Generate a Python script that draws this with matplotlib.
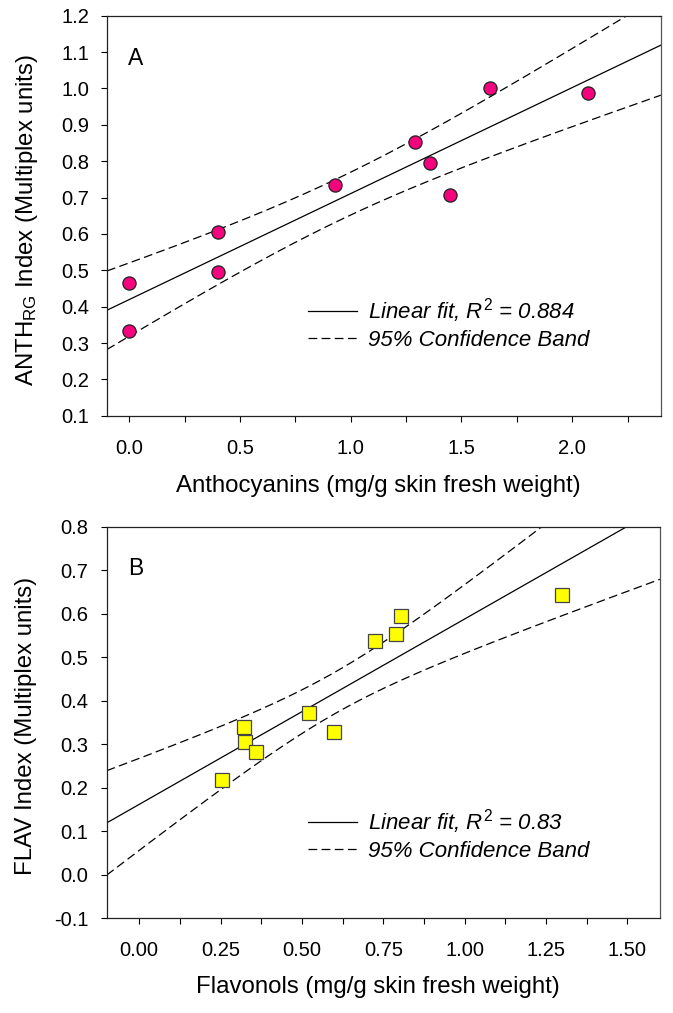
import numpy as np
import matplotlib
matplotlib.use('Agg')
import matplotlib.pyplot as plt
from matplotlib.ticker import MultipleLocator, FormatStrFormatter

# panel A: anthocyanins vs ANTH_RG
anth_x = [0.0, 0.0, 0.40, 0.40, 0.93, 1.29, 1.36, 1.45, 1.63, 2.07]
anth_y = [0.464, 0.333, 0.604, 0.494, 0.734, 0.853, 0.795, 0.708, 1.000, 0.987]
anth_r2 = '0.884'

# panel B: flavonols vs FLAV
flav_x = [0.255, 0.322, 0.324, 0.358, 0.523, 0.600, 0.724, 0.790, 0.804, 1.299]
flav_y = [0.218, 0.339, 0.305, 0.283, 0.372, 0.329, 0.537, 0.553, 0.594, 0.642]
flav_r2 = '0.83'

T95 = 2.306  # t(0.975, df=8)

plt.rcParams['font.family'] = ['Liberation Sans', 'DejaVu Sans']
plt.rcParams['mathtext.fontset'] = 'custom'
plt.rcParams['mathtext.rm'] = 'Liberation Sans'
plt.rcParams['mathtext.it'] = 'Liberation Sans:italic'
plt.rcParams['axes.linewidth'] = 0.9


def fit_band(x, y, xs):
    x = np.asarray(x); y = np.asarray(y)
    n = len(x)
    b, a = np.polyfit(x, y, 1)
    resid = y - (a + b * x)
    s = np.sqrt(np.sum(resid ** 2) / (n - 2))
    sxx = np.sum((x - x.mean()) ** 2)
    yhat = a + b * xs
    half = T95 * s * np.sqrt(1.0 / n + (xs - x.mean()) ** 2 / sxx)
    return yhat, yhat - half, yhat + half


def draw_panel(ax, x, y, r2, xlim, ylim, xmaj, xfmt, marker, face, edge, letter, xlabel, ylabel):
    xs = np.linspace(xlim[0], xlim[1], 200)
    yhat, lo, hi = fit_band(x, y, xs)
    ax.plot(xs, yhat, color='black', lw=0.9, label=r'Linear fit, $\mathit{R}^{2}$ = ' + r2)
    ax.plot(xs, hi, color='black', lw=0.9, ls=(0, (7, 3.5)), label='95% Confidence Band')
    ax.plot(xs, lo, color='black', lw=0.9, ls=(0, (7, 3.5)))
    ax.plot(x, y, ls='none', marker=marker, ms=9.5, mfc=face, mec=edge, mew=0.9, zorder=5)

    ax.set_xlim(xlim)
    ax.set_ylim(ylim)
    ax.xaxis.set_major_locator(MultipleLocator(xmaj))
    ax.xaxis.set_minor_locator(MultipleLocator(xmaj / 2))
    ax.xaxis.set_major_formatter(FormatStrFormatter(xfmt))
    ax.yaxis.set_major_locator(MultipleLocator(0.1))
    ax.yaxis.set_major_formatter(FormatStrFormatter('%.1f'))
    ax.tick_params(axis='x', which='both', direction='out', length=4, width=0.8, labelsize=14.5, pad=12.5)
    ax.tick_params(axis='y', direction='out', length=4, width=0.8, labelsize=14.5, pad=9)
    for sp in ax.spines.values():
        sp.set_color('#222222')
    ax.spines['right'].set_color('#555555')

    ax.set_xlabel(xlabel, fontsize=17.3, va='center')
    ax.xaxis.set_label_coords(0.49, -0.175)
    ax.set_ylabel(ylabel, fontsize=17.3, va='center')
    ax.yaxis.set_label_coords(-0.145, 0.49)

    ax.text(0.038, 0.893, letter, transform=ax.transAxes, fontsize=16.5, ha='left', va='center')
    return ax


fig = plt.figure(figsize=(6.73, 10.13), dpi=100)
axA = fig.add_axes([0.159, 0.5896, 0.823, 0.3949])
axB = fig.add_axes([0.1585, 0.0935, 0.822, 0.3867])

draw_panel(axA, anth_x, anth_y, anth_r2, (-0.1, 2.4), (0.1, 1.2), 0.5, '%.1f',
           'o', '#F5037E', '#222222', 'A',
           'Anthocyanins (mg/g skin fresh weight)',
           r'ANTH$_{\mathregular{RG}}$ Index (Multiplex units)')
draw_panel(axB, flav_x, flav_y, flav_r2, (-0.1, 1.6), (-0.1, 0.8), 0.25, '%.2f',
           's', '#FFFF00', '#444444', 'B',
           'Flavonols (mg/g skin fresh weight)',
           'FLAV Index (Multiplex units)')

for ax, anchor in [(axA, (0.363, 0.231)), (axB, (0.364, 0.213))]:
    ax.legend(loc='center left', bbox_to_anchor=anchor, frameon=False,
              prop={'style': 'italic', 'size': 16}, handlelength=2.2,
              handletextpad=0.5, labelspacing=0.22, borderpad=0, borderaxespad=0)

fig.savefig('out.png', dpi=100)
